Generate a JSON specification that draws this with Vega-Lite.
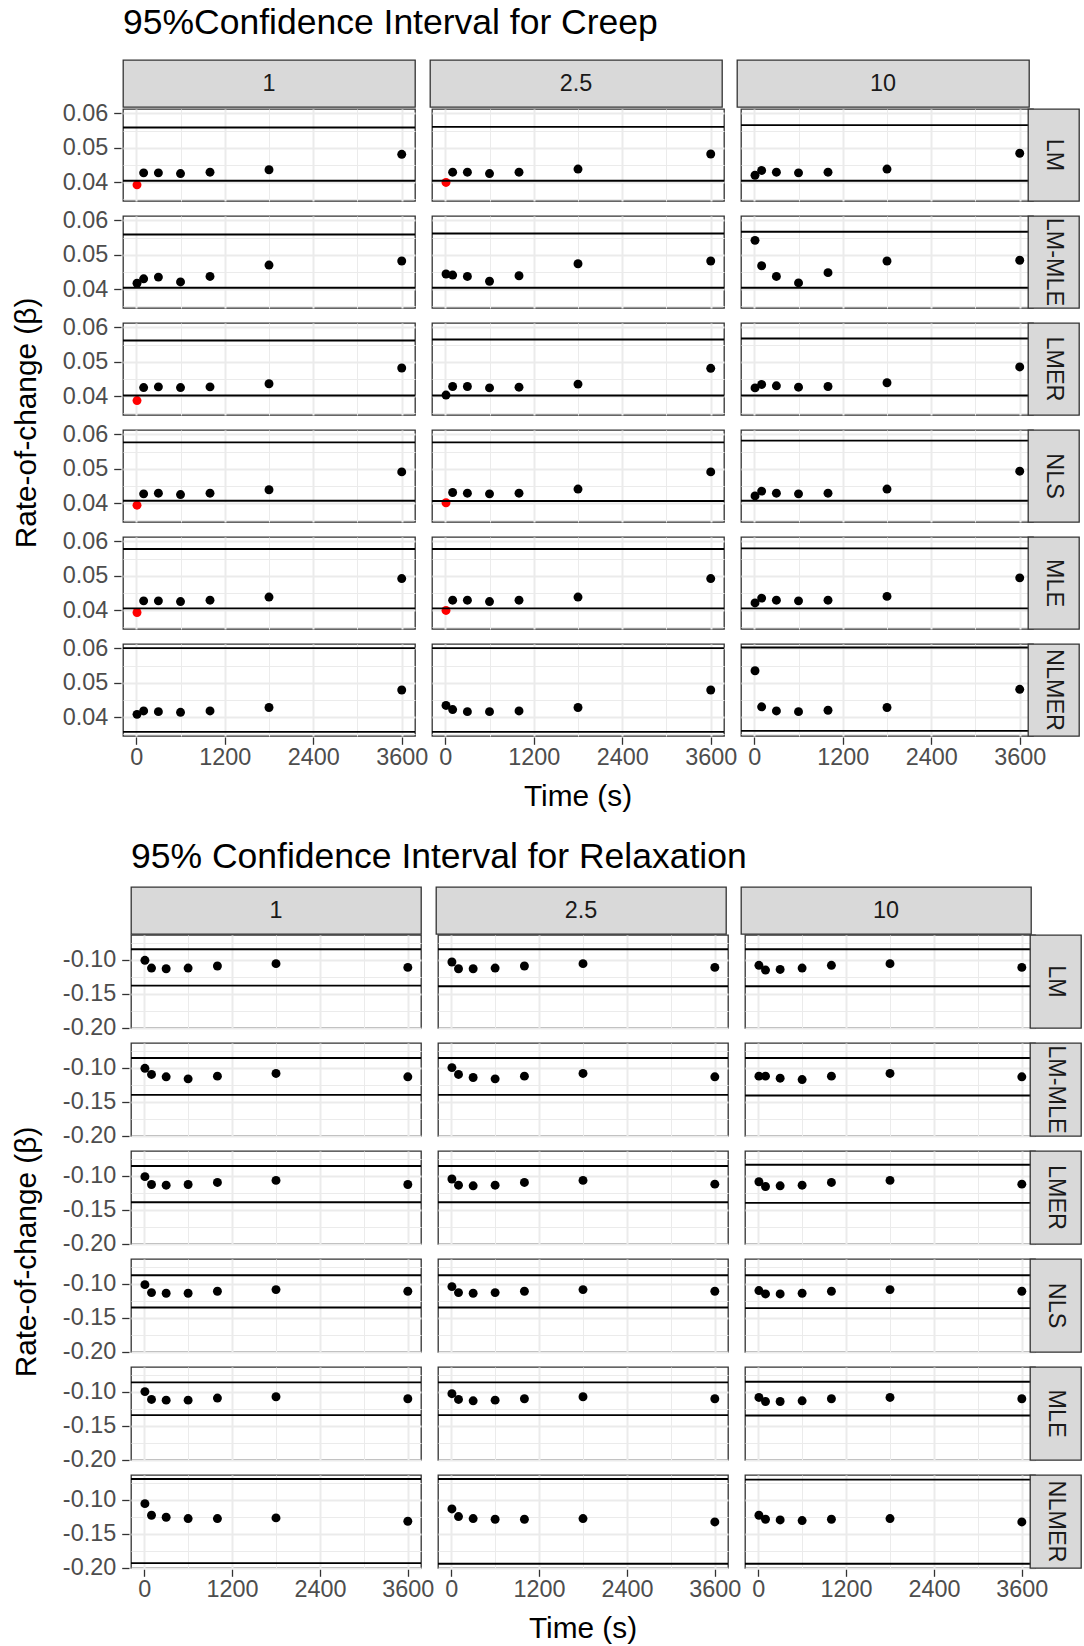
{
  "$schema": "https://vega.github.io/schema/vega-lite/v6.json",
  "background": "white",
  "padding": {"left": 10, "top": 6, "right": 2, "bottom": 0},
  "datasets": {
    "creep": [
      {"method":"LM","freq":"1","time":10,"value":0.0392,"kind":"outside"},
      {"method":"LM","freq":"1","time":100,"value":0.0427,"kind":"inside"},
      {"method":"LM","freq":"1","time":300,"value":0.0427,"kind":"inside"},
      {"method":"LM","freq":"1","time":600,"value":0.0425,"kind":"inside"},
      {"method":"LM","freq":"1","time":1000,"value":0.0429,"kind":"inside"},
      {"method":"LM","freq":"1","time":1800,"value":0.0436,"kind":"inside"},
      {"method":"LM","freq":"1","time":3600,"value":0.0481,"kind":"inside"},
      {"method":"LM","freq":"1","value":0.0404,"kind":"limit"},
      {"method":"LM","freq":"1","value":0.0559,"kind":"limit"},
      {"method":"LM","freq":"2.5","time":10,"value":0.0399,"kind":"outside"},
      {"method":"LM","freq":"2.5","time":100,"value":0.0429,"kind":"inside"},
      {"method":"LM","freq":"2.5","time":300,"value":0.0429,"kind":"inside"},
      {"method":"LM","freq":"2.5","time":600,"value":0.0425,"kind":"inside"},
      {"method":"LM","freq":"2.5","time":1000,"value":0.0429,"kind":"inside"},
      {"method":"LM","freq":"2.5","time":1800,"value":0.0438,"kind":"inside"},
      {"method":"LM","freq":"2.5","time":3600,"value":0.0482,"kind":"inside"},
      {"method":"LM","freq":"2.5","value":0.0404,"kind":"limit"},
      {"method":"LM","freq":"2.5","value":0.0561,"kind":"limit"},
      {"method":"LM","freq":"10","time":10,"value":0.0420,"kind":"inside"},
      {"method":"LM","freq":"10","time":100,"value":0.0434,"kind":"inside"},
      {"method":"LM","freq":"10","time":300,"value":0.0429,"kind":"inside"},
      {"method":"LM","freq":"10","time":600,"value":0.0427,"kind":"inside"},
      {"method":"LM","freq":"10","time":1000,"value":0.0429,"kind":"inside"},
      {"method":"LM","freq":"10","time":1800,"value":0.0438,"kind":"inside"},
      {"method":"LM","freq":"10","time":3600,"value":0.0484,"kind":"inside"},
      {"method":"LM","freq":"10","value":0.0404,"kind":"limit"},
      {"method":"LM","freq":"10","value":0.0566,"kind":"limit"},
      {"method":"LM-MLE","freq":"1","time":10,"value":0.0417,"kind":"inside"},
      {"method":"LM-MLE","freq":"1","time":100,"value":0.0430,"kind":"inside"},
      {"method":"LM-MLE","freq":"1","time":300,"value":0.0435,"kind":"inside"},
      {"method":"LM-MLE","freq":"1","time":600,"value":0.0421,"kind":"inside"},
      {"method":"LM-MLE","freq":"1","time":1000,"value":0.0437,"kind":"inside"},
      {"method":"LM-MLE","freq":"1","time":1800,"value":0.0470,"kind":"inside"},
      {"method":"LM-MLE","freq":"1","time":3600,"value":0.0482,"kind":"inside"},
      {"method":"LM-MLE","freq":"1","value":0.0404,"kind":"limit"},
      {"method":"LM-MLE","freq":"1","value":0.0559,"kind":"limit"},
      {"method":"LM-MLE","freq":"2.5","time":10,"value":0.0444,"kind":"inside"},
      {"method":"LM-MLE","freq":"2.5","time":100,"value":0.0441,"kind":"inside"},
      {"method":"LM-MLE","freq":"2.5","time":300,"value":0.0437,"kind":"inside"},
      {"method":"LM-MLE","freq":"2.5","time":600,"value":0.0423,"kind":"inside"},
      {"method":"LM-MLE","freq":"2.5","time":1000,"value":0.0439,"kind":"inside"},
      {"method":"LM-MLE","freq":"2.5","time":1800,"value":0.0474,"kind":"inside"},
      {"method":"LM-MLE","freq":"2.5","time":3600,"value":0.0482,"kind":"inside"},
      {"method":"LM-MLE","freq":"2.5","value":0.0404,"kind":"limit"},
      {"method":"LM-MLE","freq":"2.5","value":0.0562,"kind":"limit"},
      {"method":"LM-MLE","freq":"10","time":10,"value":0.0542,"kind":"inside"},
      {"method":"LM-MLE","freq":"10","time":100,"value":0.0468,"kind":"inside"},
      {"method":"LM-MLE","freq":"10","time":300,"value":0.0437,"kind":"inside"},
      {"method":"LM-MLE","freq":"10","time":600,"value":0.0418,"kind":"inside"},
      {"method":"LM-MLE","freq":"10","time":1000,"value":0.0448,"kind":"inside"},
      {"method":"LM-MLE","freq":"10","time":1800,"value":0.0482,"kind":"inside"},
      {"method":"LM-MLE","freq":"10","time":3600,"value":0.0484,"kind":"inside"},
      {"method":"LM-MLE","freq":"10","value":0.0404,"kind":"limit"},
      {"method":"LM-MLE","freq":"10","value":0.0567,"kind":"limit"},
      {"method":"LMER","freq":"1","time":10,"value":0.0387,"kind":"outside"},
      {"method":"LMER","freq":"1","time":100,"value":0.0425,"kind":"inside"},
      {"method":"LMER","freq":"1","time":300,"value":0.0427,"kind":"inside"},
      {"method":"LMER","freq":"1","time":600,"value":0.0425,"kind":"inside"},
      {"method":"LMER","freq":"1","time":1000,"value":0.0427,"kind":"inside"},
      {"method":"LMER","freq":"1","time":1800,"value":0.0436,"kind":"inside"},
      {"method":"LMER","freq":"1","time":3600,"value":0.0482,"kind":"inside"},
      {"method":"LMER","freq":"1","value":0.0402,"kind":"limit"},
      {"method":"LMER","freq":"1","value":0.0562,"kind":"limit"},
      {"method":"LMER","freq":"2.5","time":10,"value":0.0403,"kind":"inside"},
      {"method":"LMER","freq":"2.5","time":100,"value":0.0428,"kind":"inside"},
      {"method":"LMER","freq":"2.5","time":300,"value":0.0428,"kind":"inside"},
      {"method":"LMER","freq":"2.5","time":600,"value":0.0424,"kind":"inside"},
      {"method":"LMER","freq":"2.5","time":1000,"value":0.0426,"kind":"inside"},
      {"method":"LMER","freq":"2.5","time":1800,"value":0.0435,"kind":"inside"},
      {"method":"LMER","freq":"2.5","time":3600,"value":0.0481,"kind":"inside"},
      {"method":"LMER","freq":"2.5","value":0.0402,"kind":"limit"},
      {"method":"LMER","freq":"2.5","value":0.0565,"kind":"limit"},
      {"method":"LMER","freq":"10","time":10,"value":0.0424,"kind":"inside"},
      {"method":"LMER","freq":"10","time":100,"value":0.0434,"kind":"inside"},
      {"method":"LMER","freq":"10","time":300,"value":0.0430,"kind":"inside"},
      {"method":"LMER","freq":"10","time":600,"value":0.0426,"kind":"inside"},
      {"method":"LMER","freq":"10","time":1000,"value":0.0428,"kind":"inside"},
      {"method":"LMER","freq":"10","time":1800,"value":0.0439,"kind":"inside"},
      {"method":"LMER","freq":"10","time":3600,"value":0.0485,"kind":"inside"},
      {"method":"LMER","freq":"10","value":0.0402,"kind":"limit"},
      {"method":"LMER","freq":"10","value":0.0568,"kind":"limit"},
      {"method":"NLS","freq":"1","time":10,"value":0.0394,"kind":"outside"},
      {"method":"NLS","freq":"1","time":100,"value":0.0427,"kind":"inside"},
      {"method":"NLS","freq":"1","time":300,"value":0.0429,"kind":"inside"},
      {"method":"NLS","freq":"1","time":600,"value":0.0425,"kind":"inside"},
      {"method":"NLS","freq":"1","time":1000,"value":0.0429,"kind":"inside"},
      {"method":"NLS","freq":"1","time":1800,"value":0.0439,"kind":"inside"},
      {"method":"NLS","freq":"1","time":3600,"value":0.0491,"kind":"inside"},
      {"method":"NLS","freq":"1","value":0.0407,"kind":"limit"},
      {"method":"NLS","freq":"1","value":0.0577,"kind":"limit"},
      {"method":"NLS","freq":"2.5","time":10,"value":0.0401,"kind":"outside"},
      {"method":"NLS","freq":"2.5","time":100,"value":0.0431,"kind":"inside"},
      {"method":"NLS","freq":"2.5","time":300,"value":0.0429,"kind":"inside"},
      {"method":"NLS","freq":"2.5","time":600,"value":0.0427,"kind":"inside"},
      {"method":"NLS","freq":"2.5","time":1000,"value":0.0429,"kind":"inside"},
      {"method":"NLS","freq":"2.5","time":1800,"value":0.0441,"kind":"inside"},
      {"method":"NLS","freq":"2.5","time":3600,"value":0.0491,"kind":"inside"},
      {"method":"NLS","freq":"2.5","value":0.0406,"kind":"limit"},
      {"method":"NLS","freq":"2.5","value":0.0577,"kind":"limit"},
      {"method":"NLS","freq":"10","time":10,"value":0.0421,"kind":"inside"},
      {"method":"NLS","freq":"10","time":100,"value":0.0435,"kind":"inside"},
      {"method":"NLS","freq":"10","time":300,"value":0.0429,"kind":"inside"},
      {"method":"NLS","freq":"10","time":600,"value":0.0427,"kind":"inside"},
      {"method":"NLS","freq":"10","time":1000,"value":0.0429,"kind":"inside"},
      {"method":"NLS","freq":"10","time":1800,"value":0.0441,"kind":"inside"},
      {"method":"NLS","freq":"10","time":3600,"value":0.0493,"kind":"inside"},
      {"method":"NLS","freq":"10","value":0.0407,"kind":"limit"},
      {"method":"NLS","freq":"10","value":0.0582,"kind":"limit"},
      {"method":"MLE","freq":"1","time":10,"value":0.0393,"kind":"outside"},
      {"method":"MLE","freq":"1","time":100,"value":0.0427,"kind":"inside"},
      {"method":"MLE","freq":"1","time":300,"value":0.0427,"kind":"inside"},
      {"method":"MLE","freq":"1","time":600,"value":0.0425,"kind":"inside"},
      {"method":"MLE","freq":"1","time":1000,"value":0.0429,"kind":"inside"},
      {"method":"MLE","freq":"1","time":1800,"value":0.0438,"kind":"inside"},
      {"method":"MLE","freq":"1","time":3600,"value":0.0492,"kind":"inside"},
      {"method":"MLE","freq":"1","value":0.0405,"kind":"limit"},
      {"method":"MLE","freq":"1","value":0.0578,"kind":"limit"},
      {"method":"MLE","freq":"2.5","time":10,"value":0.0399,"kind":"outside"},
      {"method":"MLE","freq":"2.5","time":100,"value":0.0429,"kind":"inside"},
      {"method":"MLE","freq":"2.5","time":300,"value":0.0429,"kind":"inside"},
      {"method":"MLE","freq":"2.5","time":600,"value":0.0425,"kind":"inside"},
      {"method":"MLE","freq":"2.5","time":1000,"value":0.0429,"kind":"inside"},
      {"method":"MLE","freq":"2.5","time":1800,"value":0.0438,"kind":"inside"},
      {"method":"MLE","freq":"2.5","time":3600,"value":0.0492,"kind":"inside"},
      {"method":"MLE","freq":"2.5","value":0.0405,"kind":"limit"},
      {"method":"MLE","freq":"2.5","value":0.0578,"kind":"limit"},
      {"method":"MLE","freq":"10","time":10,"value":0.0421,"kind":"inside"},
      {"method":"MLE","freq":"10","time":100,"value":0.0435,"kind":"inside"},
      {"method":"MLE","freq":"10","time":300,"value":0.0429,"kind":"inside"},
      {"method":"MLE","freq":"10","time":600,"value":0.0427,"kind":"inside"},
      {"method":"MLE","freq":"10","time":1000,"value":0.0429,"kind":"inside"},
      {"method":"MLE","freq":"10","time":1800,"value":0.0440,"kind":"inside"},
      {"method":"MLE","freq":"10","time":3600,"value":0.0494,"kind":"inside"},
      {"method":"MLE","freq":"10","value":0.0405,"kind":"limit"},
      {"method":"MLE","freq":"10","value":0.0580,"kind":"limit"},
      {"method":"NLMER","freq":"1","time":10,"value":0.0408,"kind":"inside"},
      {"method":"NLMER","freq":"1","time":100,"value":0.0418,"kind":"inside"},
      {"method":"NLMER","freq":"1","time":300,"value":0.0416,"kind":"inside"},
      {"method":"NLMER","freq":"1","time":600,"value":0.0414,"kind":"inside"},
      {"method":"NLMER","freq":"1","time":1000,"value":0.0418,"kind":"inside"},
      {"method":"NLMER","freq":"1","time":1800,"value":0.0428,"kind":"inside"},
      {"method":"NLMER","freq":"1","time":3600,"value":0.0479,"kind":"inside"},
      {"method":"NLMER","freq":"1","value":0.0357,"kind":"limit"},
      {"method":"NLMER","freq":"1","value":0.0601,"kind":"limit"},
      {"method":"NLMER","freq":"2.5","time":10,"value":0.0434,"kind":"inside"},
      {"method":"NLMER","freq":"2.5","time":100,"value":0.0422,"kind":"inside"},
      {"method":"NLMER","freq":"2.5","time":300,"value":0.0416,"kind":"inside"},
      {"method":"NLMER","freq":"2.5","time":600,"value":0.0416,"kind":"inside"},
      {"method":"NLMER","freq":"2.5","time":1000,"value":0.0418,"kind":"inside"},
      {"method":"NLMER","freq":"2.5","time":1800,"value":0.0428,"kind":"inside"},
      {"method":"NLMER","freq":"2.5","time":3600,"value":0.0479,"kind":"inside"},
      {"method":"NLMER","freq":"2.5","value":0.0357,"kind":"limit"},
      {"method":"NLMER","freq":"2.5","value":0.0601,"kind":"limit"},
      {"method":"NLMER","freq":"10","time":10,"value":0.0535,"kind":"inside"},
      {"method":"NLMER","freq":"10","time":100,"value":0.0430,"kind":"inside"},
      {"method":"NLMER","freq":"10","time":300,"value":0.0418,"kind":"inside"},
      {"method":"NLMER","freq":"10","time":600,"value":0.0416,"kind":"inside"},
      {"method":"NLMER","freq":"10","time":1000,"value":0.0420,"kind":"inside"},
      {"method":"NLMER","freq":"10","time":1800,"value":0.0428,"kind":"inside"},
      {"method":"NLMER","freq":"10","time":3600,"value":0.0481,"kind":"inside"},
      {"method":"NLMER","freq":"10","value":0.0360,"kind":"limit"},
      {"method":"NLMER","freq":"10","value":0.0603,"kind":"limit"}
    ],
    "relax": [
      {"method":"LM","freq":"1","time":10,"value":-0.1010,"kind":"inside"},
      {"method":"LM","freq":"1","time":100,"value":-0.1124,"kind":"inside"},
      {"method":"LM","freq":"1","time":300,"value":-0.1134,"kind":"inside"},
      {"method":"LM","freq":"1","time":600,"value":-0.1124,"kind":"inside"},
      {"method":"LM","freq":"1","time":1000,"value":-0.1094,"kind":"inside"},
      {"method":"LM","freq":"1","time":1800,"value":-0.1059,"kind":"inside"},
      {"method":"LM","freq":"1","time":3600,"value":-0.1114,"kind":"inside"},
      {"method":"LM","freq":"1","value":-0.1381,"kind":"limit"},
      {"method":"LM","freq":"1","value":-0.0847,"kind":"limit"},
      {"method":"LM","freq":"2.5","time":10,"value":-0.1035,"kind":"inside"},
      {"method":"LM","freq":"2.5","time":100,"value":-0.1134,"kind":"inside"},
      {"method":"LM","freq":"2.5","time":300,"value":-0.1134,"kind":"inside"},
      {"method":"LM","freq":"2.5","time":600,"value":-0.1124,"kind":"inside"},
      {"method":"LM","freq":"2.5","time":1000,"value":-0.1094,"kind":"inside"},
      {"method":"LM","freq":"2.5","time":1800,"value":-0.1059,"kind":"inside"},
      {"method":"LM","freq":"2.5","time":3600,"value":-0.1114,"kind":"inside"},
      {"method":"LM","freq":"2.5","value":-0.1391,"kind":"limit"},
      {"method":"LM","freq":"2.5","value":-0.0847,"kind":"limit"},
      {"method":"LM","freq":"10","time":10,"value":-0.1084,"kind":"inside"},
      {"method":"LM","freq":"10","time":100,"value":-0.1153,"kind":"inside"},
      {"method":"LM","freq":"10","time":300,"value":-0.1144,"kind":"inside"},
      {"method":"LM","freq":"10","time":600,"value":-0.1124,"kind":"inside"},
      {"method":"LM","freq":"10","time":1000,"value":-0.1084,"kind":"inside"},
      {"method":"LM","freq":"10","time":1800,"value":-0.1059,"kind":"inside"},
      {"method":"LM","freq":"10","time":3600,"value":-0.1114,"kind":"inside"},
      {"method":"LM","freq":"10","value":-0.1391,"kind":"limit"},
      {"method":"LM","freq":"10","value":-0.0847,"kind":"limit"},
      {"method":"LM-MLE","freq":"1","time":10,"value":-0.1010,"kind":"inside"},
      {"method":"LM-MLE","freq":"1","time":100,"value":-0.1100,"kind":"inside"},
      {"method":"LM-MLE","freq":"1","time":300,"value":-0.1135,"kind":"inside"},
      {"method":"LM-MLE","freq":"1","time":600,"value":-0.1165,"kind":"inside"},
      {"method":"LM-MLE","freq":"1","time":1000,"value":-0.1125,"kind":"inside"},
      {"method":"LM-MLE","freq":"1","time":1800,"value":-0.1085,"kind":"inside"},
      {"method":"LM-MLE","freq":"1","time":3600,"value":-0.1135,"kind":"inside"},
      {"method":"LM-MLE","freq":"1","value":-0.1400,"kind":"limit"},
      {"method":"LM-MLE","freq":"1","value":-0.0860,"kind":"limit"},
      {"method":"LM-MLE","freq":"2.5","time":10,"value":-0.1000,"kind":"inside"},
      {"method":"LM-MLE","freq":"2.5","time":100,"value":-0.1100,"kind":"inside"},
      {"method":"LM-MLE","freq":"2.5","time":300,"value":-0.1145,"kind":"inside"},
      {"method":"LM-MLE","freq":"2.5","time":600,"value":-0.1165,"kind":"inside"},
      {"method":"LM-MLE","freq":"2.5","time":1000,"value":-0.1125,"kind":"inside"},
      {"method":"LM-MLE","freq":"2.5","time":1800,"value":-0.1085,"kind":"inside"},
      {"method":"LM-MLE","freq":"2.5","time":3600,"value":-0.1135,"kind":"inside"},
      {"method":"LM-MLE","freq":"2.5","value":-0.1400,"kind":"limit"},
      {"method":"LM-MLE","freq":"2.5","value":-0.0860,"kind":"limit"},
      {"method":"LM-MLE","freq":"10","time":10,"value":-0.1125,"kind":"inside"},
      {"method":"LM-MLE","freq":"10","time":100,"value":-0.1125,"kind":"inside"},
      {"method":"LM-MLE","freq":"10","time":300,"value":-0.1155,"kind":"inside"},
      {"method":"LM-MLE","freq":"10","time":600,"value":-0.1175,"kind":"inside"},
      {"method":"LM-MLE","freq":"10","time":1000,"value":-0.1125,"kind":"inside"},
      {"method":"LM-MLE","freq":"10","time":1800,"value":-0.1085,"kind":"inside"},
      {"method":"LM-MLE","freq":"10","time":3600,"value":-0.1135,"kind":"inside"},
      {"method":"LM-MLE","freq":"10","value":-0.1410,"kind":"limit"},
      {"method":"LM-MLE","freq":"10","value":-0.0860,"kind":"limit"},
      {"method":"LMER","freq":"1","time":10,"value":-0.1015,"kind":"inside"},
      {"method":"LMER","freq":"1","time":100,"value":-0.1130,"kind":"inside"},
      {"method":"LMER","freq":"1","time":300,"value":-0.1140,"kind":"inside"},
      {"method":"LMER","freq":"1","time":600,"value":-0.1130,"kind":"inside"},
      {"method":"LMER","freq":"1","time":1000,"value":-0.1100,"kind":"inside"},
      {"method":"LMER","freq":"1","time":1800,"value":-0.1070,"kind":"inside"},
      {"method":"LMER","freq":"1","time":3600,"value":-0.1130,"kind":"inside"},
      {"method":"LMER","freq":"1","value":-0.1390,"kind":"limit"},
      {"method":"LMER","freq":"1","value":-0.0860,"kind":"limit"},
      {"method":"LMER","freq":"2.5","time":10,"value":-0.1050,"kind":"inside"},
      {"method":"LMER","freq":"2.5","time":100,"value":-0.1140,"kind":"inside"},
      {"method":"LMER","freq":"2.5","time":300,"value":-0.1150,"kind":"inside"},
      {"method":"LMER","freq":"2.5","time":600,"value":-0.1140,"kind":"inside"},
      {"method":"LMER","freq":"2.5","time":1000,"value":-0.1100,"kind":"inside"},
      {"method":"LMER","freq":"2.5","time":1800,"value":-0.1070,"kind":"inside"},
      {"method":"LMER","freq":"2.5","time":3600,"value":-0.1125,"kind":"inside"},
      {"method":"LMER","freq":"2.5","value":-0.1390,"kind":"limit"},
      {"method":"LMER","freq":"2.5","value":-0.0860,"kind":"limit"},
      {"method":"LMER","freq":"10","time":10,"value":-0.1090,"kind":"inside"},
      {"method":"LMER","freq":"10","time":100,"value":-0.1160,"kind":"inside"},
      {"method":"LMER","freq":"10","time":300,"value":-0.1150,"kind":"inside"},
      {"method":"LMER","freq":"10","time":600,"value":-0.1140,"kind":"inside"},
      {"method":"LMER","freq":"10","time":1000,"value":-0.1100,"kind":"inside"},
      {"method":"LMER","freq":"10","time":1800,"value":-0.1070,"kind":"inside"},
      {"method":"LMER","freq":"10","time":3600,"value":-0.1125,"kind":"inside"},
      {"method":"LMER","freq":"10","value":-0.1400,"kind":"limit"},
      {"method":"LMER","freq":"10","value":-0.0840,"kind":"limit"},
      {"method":"NLS","freq":"1","time":10,"value":-0.1015,"kind":"inside"},
      {"method":"NLS","freq":"1","time":100,"value":-0.1132,"kind":"inside"},
      {"method":"NLS","freq":"1","time":300,"value":-0.1141,"kind":"inside"},
      {"method":"NLS","freq":"1","time":600,"value":-0.1141,"kind":"inside"},
      {"method":"NLS","freq":"1","time":1000,"value":-0.1112,"kind":"inside"},
      {"method":"NLS","freq":"1","time":1800,"value":-0.1088,"kind":"inside"},
      {"method":"NLS","freq":"1","time":3600,"value":-0.1112,"kind":"inside"},
      {"method":"NLS","freq":"1","value":-0.1351,"kind":"limit"},
      {"method":"NLS","freq":"1","value":-0.0878,"kind":"limit"},
      {"method":"NLS","freq":"2.5","time":10,"value":-0.1044,"kind":"inside"},
      {"method":"NLS","freq":"2.5","time":100,"value":-0.1132,"kind":"inside"},
      {"method":"NLS","freq":"2.5","time":300,"value":-0.1141,"kind":"inside"},
      {"method":"NLS","freq":"2.5","time":600,"value":-0.1132,"kind":"inside"},
      {"method":"NLS","freq":"2.5","time":1000,"value":-0.1112,"kind":"inside"},
      {"method":"NLS","freq":"2.5","time":1800,"value":-0.1088,"kind":"inside"},
      {"method":"NLS","freq":"2.5","time":3600,"value":-0.1112,"kind":"inside"},
      {"method":"NLS","freq":"2.5","value":-0.1351,"kind":"limit"},
      {"method":"NLS","freq":"2.5","value":-0.0878,"kind":"limit"},
      {"method":"NLS","freq":"10","time":10,"value":-0.1102,"kind":"inside"},
      {"method":"NLS","freq":"10","time":100,"value":-0.1151,"kind":"inside"},
      {"method":"NLS","freq":"10","time":300,"value":-0.1151,"kind":"inside"},
      {"method":"NLS","freq":"10","time":600,"value":-0.1141,"kind":"inside"},
      {"method":"NLS","freq":"10","time":1000,"value":-0.1112,"kind":"inside"},
      {"method":"NLS","freq":"10","time":1800,"value":-0.1088,"kind":"inside"},
      {"method":"NLS","freq":"10","time":3600,"value":-0.1112,"kind":"inside"},
      {"method":"NLS","freq":"10","value":-0.1360,"kind":"limit"},
      {"method":"NLS","freq":"10","value":-0.0878,"kind":"limit"},
      {"method":"MLE","freq":"1","time":10,"value":-0.1000,"kind":"inside"},
      {"method":"MLE","freq":"1","time":100,"value":-0.1115,"kind":"inside"},
      {"method":"MLE","freq":"1","time":300,"value":-0.1125,"kind":"inside"},
      {"method":"MLE","freq":"1","time":600,"value":-0.1125,"kind":"inside"},
      {"method":"MLE","freq":"1","time":1000,"value":-0.1095,"kind":"inside"},
      {"method":"MLE","freq":"1","time":1800,"value":-0.1075,"kind":"inside"},
      {"method":"MLE","freq":"1","time":3600,"value":-0.1105,"kind":"inside"},
      {"method":"MLE","freq":"1","value":-0.1345,"kind":"limit"},
      {"method":"MLE","freq":"1","value":-0.0865,"kind":"limit"},
      {"method":"MLE","freq":"2.5","time":10,"value":-0.1030,"kind":"inside"},
      {"method":"MLE","freq":"2.5","time":100,"value":-0.1115,"kind":"inside"},
      {"method":"MLE","freq":"2.5","time":300,"value":-0.1135,"kind":"inside"},
      {"method":"MLE","freq":"2.5","time":600,"value":-0.1125,"kind":"inside"},
      {"method":"MLE","freq":"2.5","time":1000,"value":-0.1105,"kind":"inside"},
      {"method":"MLE","freq":"2.5","time":1800,"value":-0.1075,"kind":"inside"},
      {"method":"MLE","freq":"2.5","time":3600,"value":-0.1105,"kind":"inside"},
      {"method":"MLE","freq":"2.5","value":-0.1345,"kind":"limit"},
      {"method":"MLE","freq":"2.5","value":-0.0865,"kind":"limit"},
      {"method":"MLE","freq":"10","time":10,"value":-0.1085,"kind":"inside"},
      {"method":"MLE","freq":"10","time":100,"value":-0.1145,"kind":"inside"},
      {"method":"MLE","freq":"10","time":300,"value":-0.1145,"kind":"inside"},
      {"method":"MLE","freq":"10","time":600,"value":-0.1135,"kind":"inside"},
      {"method":"MLE","freq":"10","time":1000,"value":-0.1105,"kind":"inside"},
      {"method":"MLE","freq":"10","time":1800,"value":-0.1085,"kind":"inside"},
      {"method":"MLE","freq":"10","time":3600,"value":-0.1105,"kind":"inside"},
      {"method":"MLE","freq":"10","value":-0.1350,"kind":"limit"},
      {"method":"MLE","freq":"10","value":-0.0855,"kind":"limit"},
      {"method":"NLMER","freq":"1","time":10,"value":-0.1059,"kind":"inside"},
      {"method":"NLMER","freq":"1","time":100,"value":-0.1229,"kind":"inside"},
      {"method":"NLMER","freq":"1","time":300,"value":-0.1259,"kind":"inside"},
      {"method":"NLMER","freq":"1","time":600,"value":-0.1278,"kind":"inside"},
      {"method":"NLMER","freq":"1","time":1000,"value":-0.1278,"kind":"inside"},
      {"method":"NLMER","freq":"1","time":1800,"value":-0.1268,"kind":"inside"},
      {"method":"NLMER","freq":"1","time":3600,"value":-0.1317,"kind":"inside"},
      {"method":"NLMER","freq":"1","value":-0.1932,"kind":"limit"},
      {"method":"NLMER","freq":"1","value":-0.0698,"kind":"limit"},
      {"method":"NLMER","freq":"2.5","time":10,"value":-0.1137,"kind":"inside"},
      {"method":"NLMER","freq":"2.5","time":100,"value":-0.1249,"kind":"inside"},
      {"method":"NLMER","freq":"2.5","time":300,"value":-0.1278,"kind":"inside"},
      {"method":"NLMER","freq":"2.5","time":600,"value":-0.1288,"kind":"inside"},
      {"method":"NLMER","freq":"2.5","time":1000,"value":-0.1288,"kind":"inside"},
      {"method":"NLMER","freq":"2.5","time":1800,"value":-0.1278,"kind":"inside"},
      {"method":"NLMER","freq":"2.5","time":3600,"value":-0.1327,"kind":"inside"},
      {"method":"NLMER","freq":"2.5","value":-0.1941,"kind":"limit"},
      {"method":"NLMER","freq":"2.5","value":-0.0698,"kind":"limit"},
      {"method":"NLMER","freq":"10","time":10,"value":-0.1229,"kind":"inside"},
      {"method":"NLMER","freq":"10","time":100,"value":-0.1288,"kind":"inside"},
      {"method":"NLMER","freq":"10","time":300,"value":-0.1298,"kind":"inside"},
      {"method":"NLMER","freq":"10","time":600,"value":-0.1307,"kind":"inside"},
      {"method":"NLMER","freq":"10","time":1000,"value":-0.1288,"kind":"inside"},
      {"method":"NLMER","freq":"10","time":1800,"value":-0.1278,"kind":"inside"},
      {"method":"NLMER","freq":"10","time":3600,"value":-0.1327,"kind":"inside"},
      {"method":"NLMER","freq":"10","value":-0.1941,"kind":"limit"},
      {"method":"NLMER","freq":"10","value":-0.0707,"kind":"limit"}
    ]
  },
  "concat": [
    {"data": {"values": [{}]}, "mark": {"type": "text"}, "encoding": {}, "width": 1, "height": 1, "view": {"stroke": null}},
    {
      "concat": [
        {
          "data": {"name": "creep"},
          "transform": [{"aggregate": [{"op": "count", "as": "n"}], "groupby": ["freq"]}],
          "title": {"text": "95%Confidence Interval for Creep", "offset": 17.5},
          "facet": {"column": {"field": "freq", "type": "nominal", "sort": ["1", "2.5", "10"], "header": null}},
          "spacing": 13,
          "spec": {
            "width": 292, "height": 47,
            "view": {"fill": "#d9d9d9", "stroke": "#333333", "strokeWidth": 1.3},
            "mark": {"type": "text", "fontSize": 23.4, "color": "#1a1a1a"},
            "encoding": {"text": {"field": "freq", "type": "nominal"}}
          }
        },
        {"data": {"values": [{}]}, "mark": {"type": "text"}, "encoding": {}, "width": 1, "height": 1, "view": {"stroke": null}},
        {
          "data": {"name": "creep"},
          "facet": {
            "row": {"field": "method", "type": "nominal", "sort": ["LM", "LM-MLE", "LMER", "NLS", "MLE", "NLMER"],
                    "header": {"title": "Rate-of-change (β)", "labels": false, "titleAngle": -90, "titlePadding": -19.5}},
            "column": {"field": "freq", "type": "nominal", "sort": ["1", "2.5", "10"],
                       "header": {"title": "Time (s)", "titleOrient": "bottom", "labels": false, "titlePadding": 1.5}}
          },
          "spacing": {"row": 13, "column": 13},
          "spec": {
            "width": 292, "height": 92,
            "view": {"fill": "white", "stroke": "#333333", "strokeWidth": 1.3},
            "encoding": {
              "y": {"field": "value", "type": "quantitative", "title": null,
                    "scale": {"domain": [0.0345, 0.0613], "nice": false, "zero": false},
                    "axis": {"values": [0.035, 0.04, 0.045, 0.05, 0.055, 0.06], "format": ".2f",
                             "labelExpr": "round(datum.value * 1000) % 10 === 0 ? datum.label : ''",
                             "gridWidth": {"condition": {"test": "round(datum.value * 1000) % 10 !== 0", "value": 1}, "value": 2},
                             "tickOpacity": {"condition": {"test": "round(datum.value * 1000) % 10 !== 0", "value": 0}, "value": 1}}}
            },
            "layer": [
              {
                "transform": [{"filter": "datum.kind !== 'limit'"}],
                "mark": {"type": "circle", "size": 80, "opacity": 1},
                "encoding": {
                  "x": {"field": "time", "type": "quantitative", "title": null,
                        "scale": {"domain": [-180, 3780], "nice": false, "zero": false},
                        "axis": {"values": [0, 600, 1200, 1800, 2400, 3000, 3600], "format": "d",
                                 "labelExpr": "datum.value % 1200 === 0 ? datum.label : ''",
                                 "gridWidth": {"condition": {"test": "datum.value % 1200 !== 0", "value": 1}, "value": 2},
                                 "tickOpacity": {"condition": {"test": "datum.value % 1200 !== 0", "value": 0}, "value": 1}}},
                  "color": {"field": "kind", "type": "nominal", "scale": {"domain": ["inside", "outside"], "range": ["#000000", "#ff0000"]}, "legend": null}
                }
              },
              {
                "transform": [{"filter": "datum.kind === 'limit'"}],
                "mark": {"type": "rule", "color": "#000000", "strokeWidth": 1.9},
                "encoding": {}
              }
            ]
          }
        },
        {
          "data": {"name": "creep"},
          "transform": [{"aggregate": [{"op": "count", "as": "n"}], "groupby": ["method"]}],
          "facet": {"row": {"field": "method", "type": "nominal", "sort": ["LM", "LM-MLE", "LMER", "NLS", "MLE", "NLMER"], "header": null}},
          "spacing": 13,
          "spec": {
            "width": 51, "height": 92,
            "view": {"fill": "#d9d9d9", "stroke": "#333333", "strokeWidth": 1.3},
            "mark": {"type": "text", "fontSize": 23.4, "color": "#1a1a1a", "angle": 90},
            "encoding": {"text": {"field": "method", "type": "nominal"}}
          }
        }
      ],
      "columns": 2,
      "align": {"row": "each", "column": "none"},
      "spacing": {"row": -7, "column": -19}
    },
    {"data": {"values": [{}]}, "mark": {"type": "text"}, "encoding": {}, "width": 1, "height": 1, "view": {"stroke": null}},
    {
      "concat": [
        {
          "data": {"name": "relax"},
          "transform": [{"aggregate": [{"op": "count", "as": "n"}], "groupby": ["freq"]}],
          "title": {"text": "95% Confidence Interval for Relaxation", "offset": 11},
          "facet": {"column": {"field": "freq", "type": "nominal", "sort": ["1", "2.5", "10"], "header": null}},
          "spacing": 13,
          "spec": {
            "width": 290, "height": 47,
            "view": {"fill": "#d9d9d9", "stroke": "#333333", "strokeWidth": 1.3},
            "mark": {"type": "text", "fontSize": 23.4, "color": "#1a1a1a"},
            "encoding": {"text": {"field": "freq", "type": "nominal"}}
          }
        },
        {"data": {"values": [{}]}, "mark": {"type": "text"}, "encoding": {}, "width": 1, "height": 1, "view": {"stroke": null}},
        {
          "data": {"name": "relax"},
          "facet": {
            "row": {"field": "method", "type": "nominal", "sort": ["LM", "LM-MLE", "LMER", "NLS", "MLE", "NLMER"],
                    "header": {"title": "Rate-of-change (β)", "labels": false, "titleAngle": -90, "titlePadding": -19.5}},
            "column": {"field": "freq", "type": "nominal", "sort": ["1", "2.5", "10"],
                       "header": {"title": "Time (s)", "titleOrient": "bottom", "labels": false, "titlePadding": 1.5}}
          },
          "spacing": {"row": 13, "column": 13},
          "spec": {
            "width": 290, "height": 93,
            "view": {"fill": "white", "stroke": "#333333", "strokeWidth": 1.3},
            "encoding": {
              "y": {"field": "value", "type": "quantitative", "title": null,
                    "scale": {"domain": [-0.2003, -0.0639], "nice": false, "zero": false},
                    "axis": {"values": [-0.2, -0.175, -0.15, -0.125, -0.1, -0.075], "format": ".2f",
                             "labelExpr": "round(datum.value * 1000) % 50 === 0 ? replace(datum.label, '−', '-') : ''",
                             "gridWidth": {"condition": {"test": "round(datum.value * 1000) % 50 !== 0", "value": 1}, "value": 2},
                             "tickOpacity": {"condition": {"test": "round(datum.value * 1000) % 50 !== 0", "value": 0}, "value": 1}}}
            },
            "layer": [
              {
                "transform": [{"filter": "datum.kind !== 'limit'"}],
                "mark": {"type": "circle", "size": 80, "opacity": 1},
                "encoding": {
                  "x": {"field": "time", "type": "quantitative", "title": null,
                        "scale": {"domain": [-180, 3780], "nice": false, "zero": false},
                        "axis": {"values": [0, 600, 1200, 1800, 2400, 3000, 3600], "format": "d",
                                 "labelExpr": "datum.value % 1200 === 0 ? datum.label : ''",
                                 "gridWidth": {"condition": {"test": "datum.value % 1200 !== 0", "value": 1}, "value": 2},
                                 "tickOpacity": {"condition": {"test": "datum.value % 1200 !== 0", "value": 0}, "value": 1}}},
                  "color": {"field": "kind", "type": "nominal", "scale": {"domain": ["inside", "outside"], "range": ["#000000", "#ff0000"]}, "legend": null}
                }
              },
              {
                "transform": [{"filter": "datum.kind === 'limit'"}],
                "mark": {"type": "rule", "color": "#000000", "strokeWidth": 1.9},
                "encoding": {}
              }
            ]
          }
        },
        {
          "data": {"name": "relax"},
          "transform": [{"aggregate": [{"op": "count", "as": "n"}], "groupby": ["method"]}],
          "facet": {"row": {"field": "method", "type": "nominal", "sort": ["LM", "LM-MLE", "LMER", "NLS", "MLE", "NLMER"], "header": null}},
          "spacing": 13,
          "spec": {
            "width": 51, "height": 93,
            "view": {"fill": "#d9d9d9", "stroke": "#333333", "strokeWidth": 1.3},
            "mark": {"type": "text", "fontSize": 23.4, "color": "#1a1a1a", "angle": 90},
            "encoding": {"text": {"field": "method", "type": "nominal"}}
          }
        }
      ],
      "columns": 2,
      "align": {"row": "each", "column": "none"},
      "spacing": {"row": -7, "column": -19}
    }
  ],
  "columns": 2,
  "align": {"row": "each", "column": "none"},
  "spacing": {"row": 27, "column": 0},
  "config": {
    "font": "Liberation Sans",
    "view": {"stroke": null},
    "axis": {"domain": false, "labelFontSize": 23.4, "labelColor": "#4d4d4d", "tickColor": "#333333", "tickWidth": 1.3, "tickSize": 7.3, "gridColor": "#ebebeb"},
    "axisX": {"labelPadding": 2.5},
    "axisY": {"labelPadding": 6},
    "header": {"titleFontSize": 29.8, "titleFontWeight": "normal", "titleColor": "#000000", "titleFont": "Liberation Sans"},
    "title": {"fontSize": 35.5, "fontWeight": "normal", "color": "#000000", "anchor": "start", "frame": "group", "font": "Liberation Sans"}
  }
}
